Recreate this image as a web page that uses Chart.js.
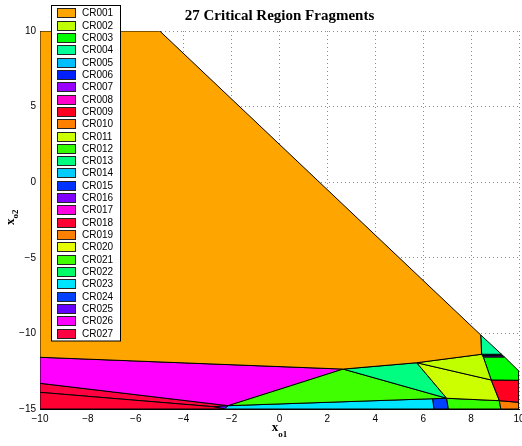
<!DOCTYPE html>
<html lang="en">
<head>
<meta charset="UTF-8">
<title>27 Critical Region Fragments</title>
<script src="https://cdn.jsdelivr.net/npm/chart.js@4.4.0/dist/chart.umd.min.js"></script>
<style>
    body { margin: 0; background: #fff; }
    canvas { display: block; }
</style>
</head>
<body>
<canvas id="myChart" width="522" height="446"></canvas>

<script type="text/javascript">
// region names, as in the legend
var regionLabels = ['CR001','CR002','CR003','CR004','CR005','CR006','CR007','CR008','CR009',
                    'CR010','CR011','CR012','CR013','CR014','CR015','CR016','CR017','CR018',
                    'CR019','CR020','CR021','CR022','CR023','CR024','CR025','CR026','CR027'];

var regionColors = ['#ffa500','#bfff00','#00ff00','#00ff99','#00bfff','#0020ff','#9900ff','#ff00cc','#ff0020',
                    '#ff8000','#ccff00','#33ff00','#00ff80','#00ccff','#0033ff','#8000ff','#ff00e0','#ff0033',
                    '#ff7f00','#e5ff00','#40ff00','#00ff66','#00e5ff','#0040ff','#6600ff','#ff00ff','#ff0040'];

// polygon vertices of every region (x_o1 and x_o2)
// empty = region too small to see
var regionX = [
    [-10, -5, 8.4, 8.44, 5.73, 2.66, -10],          // CR001
    [5.73, 8.44, 8.47, 8.51, 8.84],                  // CR002
    [8.51, 9.4, 10, 10, 8.84],                       // CR003
    [8.4, 9.27, 8.44],                               // CR004
    [],                                              // CR005
    [8.44, 9.27, 9.33, 8.47],                        // CR006
    [8.47, 9.33, 9.4, 8.51],                         // CR007
    [], [8.84, 10, 10, 9.18],                        // CR008, CR009
    [9.18, 10, 10, 9.24],                            // CR010
    [5.73, 8.84, 9.18, 6.98],                        // CR011
    [6.98, 9.18, 9.24, 7.05],                        // CR012
    [2.66, 5.73, 6.98],                              // CR013
    [], [], [], [],                                  // CR014..CR017
    [-10, -2.76, -2.3, -10],                         // CR018
    [], [],                                          // CR019, CR020
    [-2.14, 2.66, 6.98],                             // CR021
    [],                                              // CR022
    [-2.14, 6.39, 6.45, -2.3],                       // CR023
    [6.39, 6.98, 7.05, 6.45],                        // CR024
    [-2.76, -2.14, -2.3],                            // CR025
    [-10, 2.66, -2.14, -10],                         // CR026
    [-10, -2.14, -2.76, -10]                         // CR027
];
var regionY = [
    [10, 10, -10.1, -11.38, -11.94, -12.36, -11.58],
    [-11.94, -11.38, -11.47, -11.57, -13.08],
    [-11.57, -11.57, -12.5, -13.1, -13.08],
    [-10.1, -11.38, -11.38],
    [],
    [-11.38, -11.38, -11.47, -11.47],
    [-11.47, -11.47, -11.57, -11.57],
    [], [-13.08, -13.1, -14.56, -14.45],
    [-14.45, -14.56, -15, -15],
    [-11.94, -13.08, -14.45, -14.29],
    [-14.29, -14.45, -15, -15],
    [-12.36, -11.94, -14.29],
    [], [], [], [],
    [-13.9, -14.85, -15, -15],
    [], [],
    [-14.78, -12.36, -14.29],
    [],
    [-14.78, -14.32, -15, -15],
    [-14.32, -14.29, -15, -15],
    [-14.85, -14.78, -15],
    [-11.58, -12.36, -14.78, -13.3],
    [-13.3, -14.78, -14.85, -13.9]
];

var xTicks = [-10, -8, -6, -4, -2, 0, 2, 4, 6, 8, 10];
var yTicks = [-15, -10, -5, 0, 5, 10];

var chartTitle = '27 Critical Region Fragments';

function minus(v) {
    return String(v).replace('-', '\u2212');
}

var datasets = [];
for (var i = 0; i < regionLabels.length; i++) {
    var pts = [];
    for (var j = 0; j < regionX[i].length; j++) {
        pts.push({x: regionX[i][j], y: regionY[i][j]});
    }
    if (pts.length > 0) pts.push(pts[0]); // close the polygon
    datasets.push({
        label: regionLabels[i],
        data: pts,
        showLine: true,
        fill: 'shape',
        backgroundColor: regionColors[i],
        borderColor: '#000',
        borderWidth: 1,
        pointRadius: 0,
        tension: 0
    });
}

// title, axis labels with subscripts and the boxed legend
var decor = {
    id: 'decor',
    afterDraw: function(chart) {
        var ctx = chart.ctx;
        var area = chart.chartArea;
        ctx.save();
        ctx.fillStyle = '#000';

        ctx.font = 'bold 15px "Liberation Serif"';
        ctx.textAlign = 'center';
        ctx.textBaseline = 'alphabetic';
        ctx.fillText(chartTitle, (area.left + area.right) / 2, 20);

        // x label
        ctx.textAlign = 'left';
        ctx.font = 'bold 13px "Liberation Serif"';
        var wx = ctx.measureText('x').width;
        ctx.font = 'bold 9px "Liberation Serif"';
        var ws = ctx.measureText('o1').width;
        var x0 = (area.left + area.right) / 2 - (wx + ws) / 2;
        ctx.font = 'bold 13px "Liberation Serif"';
        ctx.fillText('x', x0, 431);
        ctx.font = 'bold 9px "Liberation Serif"';
        ctx.fillText('o1', x0 + wx, 437);

        // y label
        ctx.translate(13.5, 225);
        ctx.rotate(-Math.PI / 2);
        ctx.font = 'bold 13px "Liberation Serif"';
        ctx.fillText('x', 0, 0);
        ctx.font = 'bold 9px "Liberation Serif"';
        ctx.fillText('o2', wx, 4);
        ctx.setTransform(1, 0, 0, 1, 0, 0);

        // legend
        ctx.fillStyle = '#fff';
        ctx.fillRect(51.5, 5.5, 69, 335.5);
        ctx.strokeStyle = '#000';
        ctx.lineWidth = 1;
        ctx.strokeRect(51.5, 5.5, 69, 335.5);
        ctx.font = '10px "Liberation Sans"';
        ctx.textBaseline = 'middle';
        for (var k = 0; k < regionLabels.length; k++) {
            var yc = Math.round(13.3 + 12.32 * k);
            ctx.fillStyle = regionColors[k];
            ctx.fillRect(57.5, yc - 4.5, 18, 9);
            ctx.strokeStyle = '#222';
            ctx.strokeRect(57.5, yc - 4.5, 18, 9);
            ctx.fillStyle = '#000';
            ctx.fillText(regionLabels[k], 82, yc + 0.5);
        }
        ctx.restore();
    }
};

var gridOpts = {
    color: 'rgba(0,0,0,0.45)',
    lineWidth: 1,
    drawTicks: false
};

var myChart = new Chart(document.getElementById('myChart'), {
    type: 'scatter',
    data: { datasets: datasets },
    options: {
        responsive: false,
        animation: false,
        layout: { padding: { top: 31, right: 3, left: 0, bottom: 0 } },
        plugins: {
            legend: { display: false },
            tooltip: { enabled: false },
            title: { display: false }
        },
        scales: {
            x: {
                type: 'linear',
                min: -10, max: 10,
                afterBuildTicks: function(s) { s.ticks = xTicks.map(function(v){ return {value: v}; }); },
                afterFit: function(s) { s.height = 37; s.paddingLeft = 0; s.paddingRight = 0; },
                grid: gridOpts,
                border: { display: true, color: '#000', width: 1, dash: [1, 3] },
                ticks: {
                    color: '#000', padding: 4, maxRotation: 0,
                    font: { family: 'Liberation Sans', size: 10 },
                    callback: function(v) { return minus(v); }
                }
            },
            y: {
                type: 'linear',
                min: -15, max: 10,
                afterBuildTicks: function(s) { s.ticks = yTicks.map(function(v){ return {value: v}; }); },
                afterFit: function(s) { s.width = 40; s.paddingTop = 0; s.paddingBottom = 0; },
                grid: gridOpts,
                border: { display: true, color: '#000', width: 1, dash: [1, 3] },
                ticks: {
                    color: '#000', padding: 4,
                    font: { family: 'Liberation Sans', size: 10 },
                    callback: function(v) { return minus(v); }
                }
            }
        }
    },
    plugins: [decor]
});
</script>
</body>
</html>
